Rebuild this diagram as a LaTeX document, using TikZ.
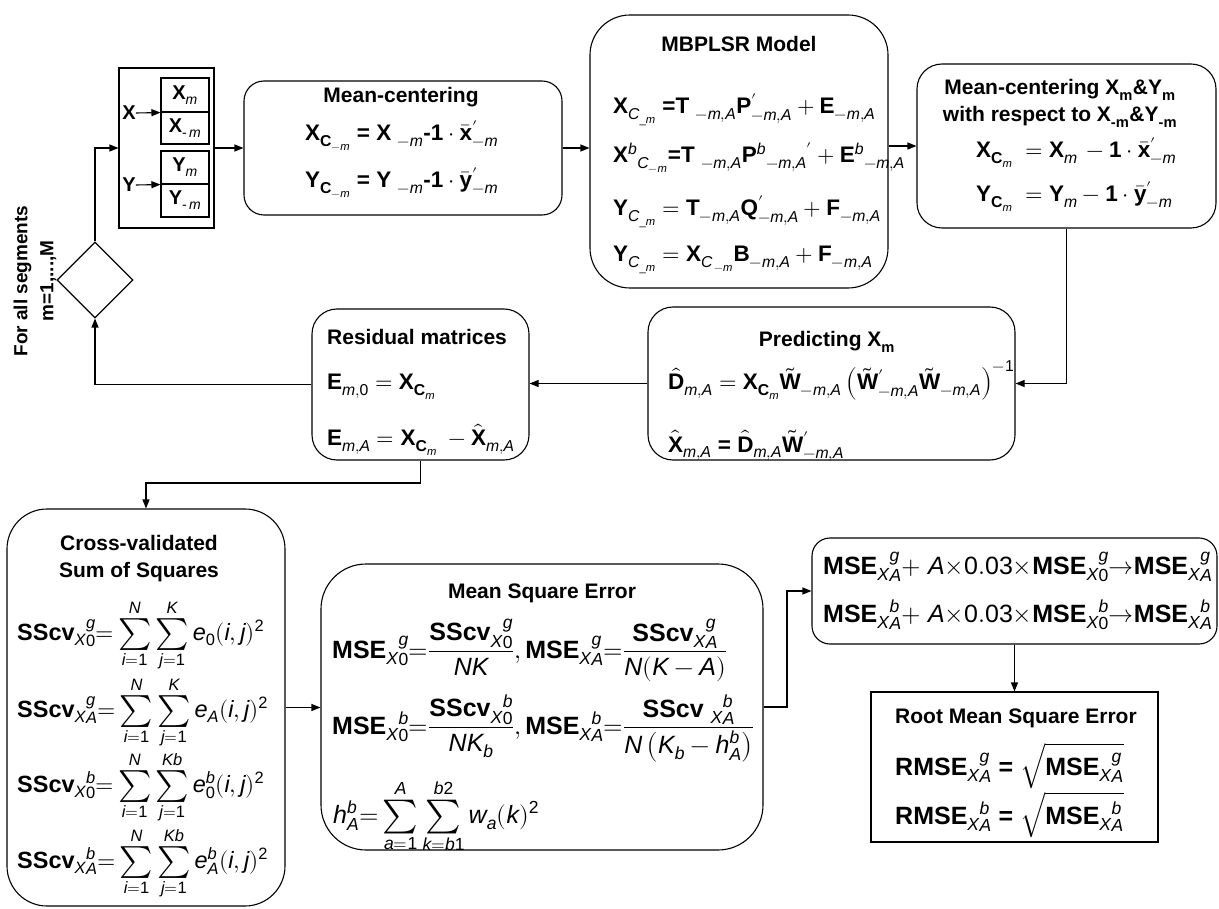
\documentclass[tikz,border=0pt]{standalone}
\usepackage{amsmath}
\usepackage{graphicx}
\usepackage{fontspec}
\usepackage{unicode-math}
\setmainfont{Liberation Sans}
\setmathfont{Latin Modern Math}
\setmathfont[range=up/{latin,Latin,num}]{Liberation Sans}
\setmathfont[range=it/{latin,Latin}]{Liberation Sans Italic}
\setmathfont[range=bfup/{latin,Latin,num}]{Liberation Sans Bold}
\usetikzlibrary{shapes.geometric,arrows.meta}

% bold upright letters and a bold "=" for the formulas
\newcommand{\bv}[1]{\mathbf{#1}}
\newcommand{\beq}{\text{\bfseries =}}
% medium-sized summation sign with limits above and below
\newcommand{\msum}{\mathop{\vcenter{\hbox{\scalebox{1.35}{$\sum$}}}}\limits}
\newcommand{\dsum}[4]{\msum_{#1}^{#2}\msum_{#3}^{#4}}

\begin{document}
\begin{tikzpicture}[x=1pt,y=-1pt,
  box/.style={draw, inner sep=0pt, line width=1.1pt},
  rbox/.style={box, rounded corners=#1},
  cell/.style={box, minimum width=48pt, font=\fontsize{20}{24}\selectfont},
  ttl/.style={anchor=base, inner sep=0pt, font=\fontsize{21}{25}\selectfont\bfseries},
  ttlw/.style={anchor=base west, inner sep=0pt, font=\fontsize{21}{25}\selectfont\bfseries},
  fml/.style={anchor=base west, inner sep=0pt, font=\fontsize{22.5}{27}\selectfont},
  fmlL/.style={anchor=base west, inner sep=0pt, font=\fontsize{25}{30}\selectfont},
  fmlS/.style={anchor=base west, inner sep=0pt, font=\fontsize{23.5}{28}\selectfont},
  conn/.style={-{Triangle[length=9pt,width=7pt]}, line width=1.1pt},
  lbl/.style={inner sep=0pt, font=\fontsize{20}{24}\selectfont\bfseries}]
\useasboundingbox (0,0) rectangle (1219,909);

% ---------- data split ----------
\node[box, minimum width=95pt, minimum height=160pt] (inp) at (166.5,148) {};
\node[cell, minimum height=34pt] (xm)  at (185,95)    {$\bv{X}_{m}$};
\node[cell, minimum height=32pt] (xnm) at (185,128)   {$\bv{X}_{\text{-}\,m}$};
\node[cell, minimum height=33pt] (ym)  at (185,167.5) {$\bv{Y}_{m}$};
\node[cell, minimum height=33pt] (ynm) at (185,200.5) {$\bv{Y}_{\text{-}\,m}$};
\node[lbl] (xl) at (129,113) {X};
\node[lbl] (yl) at (129,185) {Y};
\draw[conn] (xl.east) -- (xm.south west);
\draw[conn] (yl.east) -- (ym.south west);

% ---------- loop over segments ----------
\node[draw, diamond, line width=1.1pt, minimum width=76pt, minimum height=76pt, inner sep=0pt] (dia) at (95,280) {};
\node[rotate=90, align=center, inner sep=0pt, font=\fontsize{19}{26}\selectfont\bfseries] (seg) at (35,281) {For all segments\\m=1,...,M};

% ---------- mean-centering ----------
\node[rbox=20pt, minimum width=318pt, minimum height=134pt] (mc) at (403,148) {};
\node[ttl] (mct) at (401,103) {Mean-centering};
\node[fml] (mc1) at (305,141) {$\bv{X}_{\bv{C}_{-m}}\ \beq\ \bv{X}\;{}_{-m}\text{\bfseries -1}\cdot\bar{\bv{x}}'_{-m}$};
\node[fml] (mc2l) at (305,188) {$\bv{Y}_{\bv{C}_{-m}}\ \beq\ \bv{Y}\;{}_{-m}\text{\bfseries -1}\cdot\bar{\bv{y}}'_{-m}$};

% ---------- MBPLSR model ----------
\node[rbox=40pt, minimum width=298pt, minimum height=273pt] (mb) at (739,151.5) {};
\node[ttl] (mbt) at (739,52) {MBPLSR Model};
\node[fml] (mb1) at (613,114) {$\bv{X}_{C_{\_m}}\ \beq\bv{T}\;{}_{-m,A}\bv{P}'_{-m,A}+\bv{E}_{-m,A}$};
\node[fml] (mb2) at (613,163) {$\bv{X}^{b}{}_{C_{-m}}\beq\bv{T}\;{}_{-m,A}\bv{P}^{b}{}_{-m,A}{}'+\bv{E}^{b}{}_{-m,A}$};
\node[fml] (mb3) at (613,216) {$\bv{Y}_{C_{\_m}}=\bv{T}_{-m,A}\bv{Q}'_{-m,A}+\bv{F}_{-m,A}$};
\node[fml] (mb4) at (613,262) {$\bv{Y}_{C_{\_m}}=\bv{X}_{C_{\,-m}}\bv{B}_{-m,A}+\bv{F}_{-m,A}$};

% ---------- mean-centering of the left-out segment ----------
\node[rbox=25pt, minimum width=299pt, minimum height=164pt] (mc2) at (1066.5,146) {};
\node[ttl] (mc2t1) at (1060,95) {Mean-centering X\textsubscript{m}\&Y\textsubscript{m}};
\node[ttl] (mc2t2) at (1060,122) {with respect to X\textsubscript{-m}\&Y\textsubscript{-m}};
\node[fml] (mc2a) at (976,158) {$\bv{X}_{\bv{C}_{m}}\ = \bv{X}_{m}\,-\bv{1}\cdot\bar{\bv{x}}'_{-m}$};
\node[fml] (mc2b) at (976,202) {$\bv{Y}_{\bv{C}_{m}}\ = \bv{Y}_{m}-\bv{1}\cdot\bar{\bv{y}}'_{-m}$};

% ---------- prediction ----------
\node[rbox=25pt, minimum width=367pt, minimum height=153pt] (pred) at (831.5,383.5) {};
\node[ttl] (predt) at (827,347) {Predicting X\textsubscript{m}};
\node[fml] (pred1) at (668,390) {$\hat{\bv{D}}_{m,A}=\bv{X}_{\bv{C}_{m}}\tilde{\bv{W}}_{-m,A}\left(\tilde{\bv{W}}'_{-m,A}\tilde{\bv{W}}_{-m,A}\right)^{-1}$};
\node[fml] (pred2) at (668,452) {$\hat{\bv{X}}_{m,A}\ \beq\ \hat{\bv{D}}_{m,A}\tilde{\bv{W}}'_{-m,A}$};

% ---------- residuals ----------
\node[rbox=25pt, minimum width=217pt, minimum height=151pt] (res) at (420.5,384.5) {};
\node[ttlw] (rest) at (327,345) {Residual matrices};
\node[fml] (res1) at (327,390) {$\bv{E}_{m,0}=\bv{X}_{\bv{C}_{m}}$};
\node[fml] (res2) at (327,446) {$\bv{E}_{m,A}=\bv{X}_{\bv{C}_{m}}\ -\hat{\bv{X}}_{m,A}$};

% ---------- cross-validated sum of squares ----------
\node[rbox=40pt, minimum width=278pt, minimum height=397pt] (ss) at (146,707.5) {};
\node[ttl] (sst) at (139,550) {Cross-validated};
\node[ttl] (sst2) at (139,577) {Sum of Squares};
\node[fmlS] (ss1) at (17,640) {$\bv{SScv}_{X}{}^{g}_{0}{=}\dsum{i=1}{N}{j=1}{K}e_{0}(i,j)^{2}$};
\node[fmlS] (ss2) at (17,717) {$\bv{SScv}_{X}{}^{g}_{A}{=}\dsum{i=1}{N}{j=1}{K}e_{A}(i,j)^{2}$};
\node[fmlS] (ss3) at (17,792) {$\bv{SScv}_{X}{}^{b}_{0}{=}\dsum{i=1}{N}{j=1}{Kb}e^{b}_{0}(i,j)^{2}$};
\node[fmlS] (ss4) at (17,868) {$\bv{SScv}_{X}{}^{b}_{A}{=}\dsum{i=1}{N}{j=1}{Kb}e^{b}_{A}(i,j)^{2}$};

% ---------- mean square error ----------
\node[rbox=45pt, minimum width=442pt, minimum height=286pt] (mse) at (542,707) {};
\node[ttl] (mset) at (542,598) {Mean Square Error};
\node[fmlL] (mse1) at (332,658) {$\displaystyle\bv{MSE}_{X}{}^{g}_{0}{=}\frac{\bv{SScv}_{X}{}^{g}_{0}}{NK},\bv{MSE}_{X}{}^{g}_{A}{=}\frac{\bv{SScv}_{X}{}^{g}_{A}}{N(K-A)}$};
\node[fmlL] (mse2) at (332,734) {$\displaystyle\bv{MSE}_{X}{}^{b}_{0}{=}\frac{\bv{SScv}_{X}{}^{b}_{0}}{NK_{b}},\bv{MSE}_{X}{}^{b}_{A}{=}\frac{\bv{SScv}\;{}_{X}{}^{b}_{A}}{N\left(K_{b}-h^{b}_{A}\right)}$};
\node[fmlL] (mse3) at (333,823) {$h^{b}_{A}{=}\dsum{a=1}{A}{k=b1}{b2}w_{a}(k)^{2}$};

% ---------- penalised MSE ----------
\node[rbox=18pt, minimum width=405pt, minimum height=106pt] (rule) at (1014.5,591) {};
\node[fmlL] (rule1) at (823,574) {$\bv{MSE}_{X}{}^{g}_{A}{+}\ A{\times}0.03{\times}\bv{MSE}_{X}{}^{g}_{0}{\rightarrow}\bv{MSE}_{X}{}^{g}_{A}$};
\node[fmlL] (rule2) at (823,622) {$\bv{MSE}_{X}{}^{b}_{A}{+}\ A{\times}0.03{\times}\bv{MSE}_{X}{}^{b}_{0}{\rightarrow}\bv{MSE}_{X}{}^{b}_{A}$};

% ---------- root mean square error ----------
\node[box, minimum width=287pt, minimum height=150pt] (rmse) at (1014.5,767) {};
\node[ttlw] (rmset) at (895,723) {Root Mean Square Error};
\node[fmlL] (rmse1) at (895,775) {$\bv{RMSE}_{X}{}^{g}_{A}\ \beq\ \sqrt{\bv{MSE}_{X}{}^{g}_{A}}$};
\node[fmlL] (rmse2) at (895,824) {$\bv{RMSE}_{X}{}^{b}_{A}\ \beq\ \sqrt{\bv{MSE}_{X}{}^{b}_{A}}$};

% ---------- connectors ----------
\coordinate (low) at (0,483);
\coordinate (kink) at (787,0);
\draw[conn] (dia.north) |- (inp.west);
\draw[conn] (inp.east) -- (mc.west);
\draw[conn] (mc.east) -- (mc.east -| mb.west);
\draw[conn] (mc2.west -| mb.east) -- (mc2.west);
\draw[conn] (mc2.south) |- (pred.east);
\draw[conn] (pred.west) -- (pred.west -| res.east);
\draw[conn] (res.west) -| (dia.south);
\draw[conn] (res.south) -- (res.south |- low) -| (ss.north);
\draw[conn] (ss.east) -- (ss.east -| mse.west);
\draw[conn] (mse.east) -| (kink |- rule.west) -- (rule.west);
\draw[conn] (rule.south) -- (rule.south |- rmse.north);
\end{tikzpicture}
\end{document}
